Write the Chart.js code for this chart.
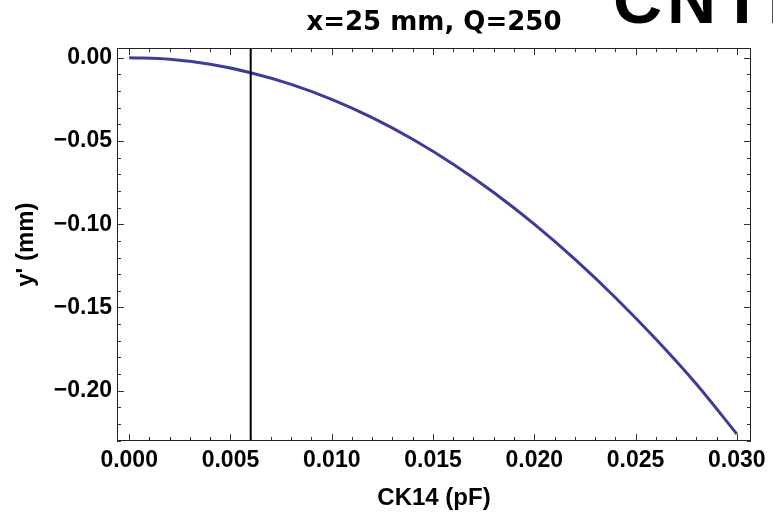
<!DOCTYPE html>
<html><head><meta charset="utf-8">
<script src="https://cdn.jsdelivr.net/npm/chart.js@4.4.0/dist/chart.umd.min.js"></script>
<style>html,body{margin:0;padding:0;background:#fff;}#wrap{width:773px;height:513px;position:relative;}</style>
</head><body><div id="wrap"><canvas id="c" width="773" height="513"></canvas></div>
<script>
// ---- data ----
const titleText = 'x=25 mm, Q=250';
const xAxisTitle = 'CK14 (pF)';
const yAxisTitle = "y' (mm)";
const cornerText = 'CNTP';
const ck14   = [0, 0.002, 0.004, 0.006, 0.008, 0.010, 0.012, 0.014, 0.016, 0.018, 0.020, 0.022, 0.024, 0.026, 0.028, 0.030];
const yPrime = [0, -0.001, -0.004, -0.009, -0.016, -0.025, -0.036, -0.049, -0.064, -0.081, -0.100, -0.121, -0.144, -0.169, -0.196, -0.226];
const markerX = 0.006;
const xLimits = [-0.0006, 0.0307];
const yLimits = [-0.2302, 0.0057];
const xTickValues = [0, 0.005, 0.010, 0.015, 0.020, 0.025, 0.030];
const yTickValues = [0, -0.05, -0.10, -0.15, -0.20];

const curvePts = ck14.map((v, i) => ({x: v, y: yPrime[i]}));
const markerPts = [{x: markerX, y: yLimits[0] - 0.01}, {x: markerX, y: yLimits[1] + 0.01}];

const tickFont = {family: "'Liberation Sans', Arial", weight: 'bold', size: 23};
const axisTitleFont = {family: "'Liberation Sans', Arial", weight: 'bold', size: 24};

const framePlugin = {
  id: 'frame',
  afterLayout(chart) {
    const t = chart.titleBlock, a = chart.chartArea;
    if (t) { t.left = a.left; t.right = a.right; t.width = a.right - a.left; }
  },
  afterDatasetsDraw(chart) {
    const {ctx, chartArea: a, scales: {x, y}} = chart;
    ctx.save();
    ctx.strokeStyle = '#333';
    ctx.lineWidth = 1;
    ctx.beginPath();
    for (let i = 0; i <= 30; i++) {
      const px = Math.round(x.getPixelForValue(i * 0.001)) + 0.5;
      const L = i % 5 === 0 ? 7 : 4;
      ctx.moveTo(px, a.bottom); ctx.lineTo(px, a.bottom - L);
      ctx.moveTo(px, a.top); ctx.lineTo(px, a.top + L);
    }
    for (let i = 0; i <= 23; i++) {
      const py = Math.round(y.getPixelForValue(-i * 0.01)) + 0.5;
      const L = i % 5 === 0 ? 7 : 4;
      ctx.moveTo(a.left, py); ctx.lineTo(a.left + L, py);
      ctx.moveTo(a.right, py); ctx.lineTo(a.right - L, py);
    }
    ctx.stroke();
    ctx.strokeStyle = '#222';
    ctx.strokeRect(Math.round(a.left) + 0.5, Math.round(a.top) + 0.5, Math.round(a.right - a.left) - 1, Math.round(a.bottom - a.top) - 1);
    ctx.restore();
  },
  afterDraw(chart) {
    const ctx = chart.ctx;
    ctx.save();
    ctx.fillStyle = '#000';
    ctx.font = "bold 68px 'Liberation Sans', Arial";
    if ('letterSpacing' in ctx) ctx.letterSpacing = '5px';
    ctx.textBaseline = 'alphabetic';
    ctx.textAlign = 'left';
    ctx.fillText(cornerText, 613, 23);
    ctx.restore();
  }
};

new Chart(document.getElementById('c'), {
  type: 'scatter',
  data: {
    datasets: [
      {data: markerPts, showLine: true, borderColor: '#000', borderWidth: 2, pointRadius: 0, fill: false},
      {data: curvePts, showLine: true, borderColor: '#3d3d99', borderWidth: 3, pointRadius: 0, fill: false, cubicInterpolationMode: 'monotone'}
    ]
  },
  options: {
    responsive: false,
    devicePixelRatio: 1,
    animation: false,
    layout: {padding: {left: 0, right: 22, top: 0, bottom: 0}},
    plugins: {
      legend: {display: false},
      tooltip: {enabled: false},
      title: {
        display: true, text: titleText, color: '#000',
        font: {family: "'DejaVu Sans'", weight: 'bold', size: 26, lineHeight: 1.2},
        padding: {top: 8, bottom: 9}
      }
    },
    scales: {
      x: {
        type: 'linear', min: xLimits[0], max: xLimits[1],
        grid: {display: false, drawTicks: false},
        border: {display: false},
        afterBuildTicks(s) { s.ticks = xTickValues.map(v => ({value: v})); },
        afterFit(s) { s.height = 72; },
        ticks: {
          autoSkip: false, maxRotation: 0, padding: 6, color: '#000', font: tickFont,
          callback: v => Number(v).toFixed(3)
        },
        title: {display: true, text: xAxisTitle, color: '#000', font: axisTitleFont, padding: {top: 0, bottom: 0}}
      },
      y: {
        type: 'linear', min: yLimits[0], max: yLimits[1],
        grid: {display: false, drawTicks: false},
        border: {display: false},
        afterBuildTicks(s) { s.ticks = yTickValues.map(v => ({value: v})); },
        afterFit(s) { s.width = 117; },
        ticks: {
          autoSkip: false, padding: 5, color: '#000', font: tickFont,
          callback: v => (v < -1e-9 ? '\u2212' : '') + Math.abs(v).toFixed(2)
        },
        title: {display: true, text: yAxisTitle, color: '#000', font: axisTitleFont, padding: {top: 12, bottom: 0}}
      }
    }
  },
  plugins: [framePlugin]
});
</script></body></html>
